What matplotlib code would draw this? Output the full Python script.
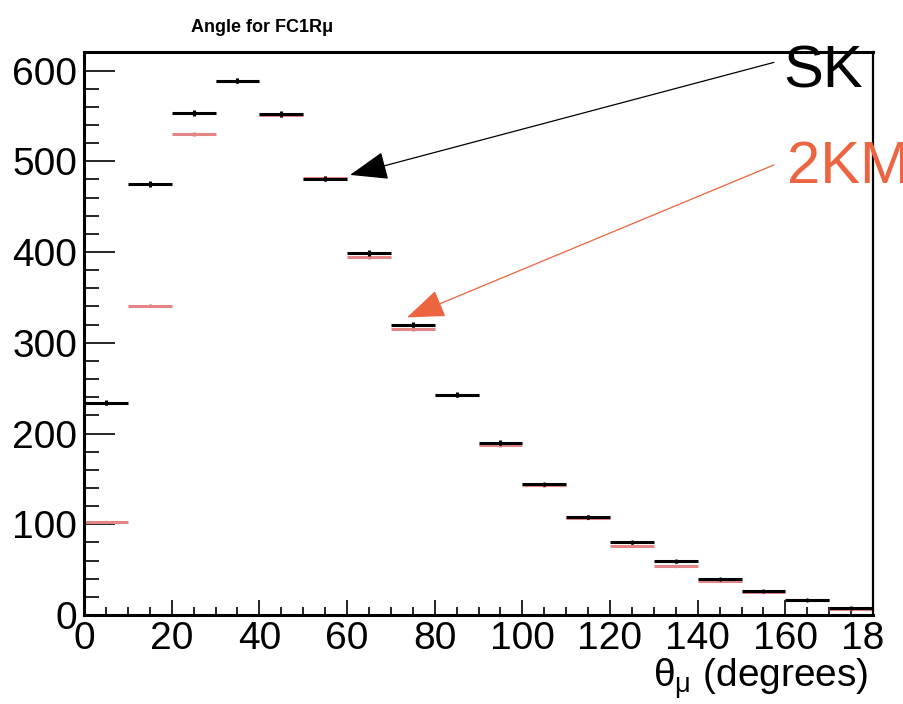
import matplotlib
matplotlib.use("Agg")
from matplotlib import pyplot as plt
from matplotlib.ticker import MultipleLocator, FixedLocator

# angle bins (degrees)
bin_edges = list(range(0, 190, 10))
# SK histogram (black)
sk_counts = [234, 475, 553, 589, 552, 481, 399, 320, 243, 190, 144, 108, 80, 59, 40, 26.5, 16.5, 7.5]
sk_err = [2.5, 3, 3, 3, 3, 3, 3, 3, 2.5, 2.5, 2, 2, 1.5, 1.5, 1, 1, 1, 0.5]
# 2KM histogram (light red, drawn below)
km_counts = [102.5, 341, 530, 589, 551, 481.5, 394, 315, 243, 187, 143, 107, 76.5, 54, 37.5, 25.5, 16, 7]
km_err = [1.5, 2, 2.5, 2.5, 2.5, 2.5, 2, 2, 2, 1.5, 1.5, 1, 1, 1, 0.5, 0.5, 0.5, 0.5]

x_ticks = [0, 20, 40, 60, 80, 100, 120, 140, 160, 180]
# last label is cut off in the original ("180" -> "18")
x_tick_labels = ["0", "20", "40", "60", "80", "100", "120", "140", "160", "18\u2007"]
y_ticks = [0, 100, 200, 300, 400, 500, 600]

plt.rcParams['font.family'] = ['Liberation Sans', 'DejaVu Sans']
plt.rcParams['mathtext.fontset'] = 'custom'
plt.rcParams['mathtext.rm'] = 'Liberation Sans'
plt.rcParams['mathtext.it'] = 'Liberation Sans'

fig = plt.figure(figsize=(9.04, 7.04), dpi=100)
ax = fig.add_axes([84 / 904, 1 - 615 / 704, (873 - 84) / 904, (615 - 51.5) / 704])

centers = [(bin_edges[i] + bin_edges[i + 1]) / 2 for i in range(len(bin_edges) - 1)]
half_w = [(bin_edges[i + 1] - bin_edges[i]) / 2 for i in range(len(bin_edges) - 1)]

km_color = "#e48585"
ax.errorbar(centers, km_counts, xerr=half_w, yerr=km_err, fmt='.', ms=3,
            color=km_color, ecolor=km_color, elinewidth=2.2, capsize=0, zorder=2)
ax.errorbar(centers, sk_counts, xerr=half_w, yerr=sk_err, fmt='.', ms=4,
            color='black', ecolor='black', elinewidth=2.2, capsize=0, zorder=3)

ax.set_xlim(0, 180)
ax.set_ylim(0, 621)

ax.xaxis.set_major_locator(FixedLocator(x_ticks))
ax.set_xticklabels(x_tick_labels)
ax.xaxis.set_minor_locator(MultipleLocator(5))
ax.yaxis.set_major_locator(FixedLocator(y_ticks))
ax.yaxis.set_minor_locator(MultipleLocator(20))

ax.tick_params(axis='both', which='both', direction='in', top=False, right=False,
               labelsize=28, width=1.2)
ax.tick_params(axis='x', which='major', length=11, pad=4)
ax.tick_params(axis='x', which='minor', length=5.5)
ax.tick_params(axis='y', which='major', length=22, pad=5)
ax.tick_params(axis='y', which='minor', length=11)

for side in ['left', 'bottom', 'top']:
    ax.spines[side].set_linewidth(2.2)
ax.spines['right'].set_linewidth(1.6)

# title and axis label
fig.text(262 / 904, 1 - 32 / 704, "Angle for FC1R\u03bc", fontsize=13, fontweight='bold',
         ha='center', va='baseline')
fig.text(868 / 904, 1 - 688 / 704, r"$\mathregular{\theta_{\mu}}$ (degrees)", fontsize=28,
         ha='right', va='baseline')

# labels with arrows
arrow_color = "#ec6440"
ax.annotate("", xy=(60.7, 485), xytext=(157.4, 609), annotation_clip=False,
            arrowprops=dict(arrowstyle='-|>,head_length=1.2,head_width=0.45', mutation_scale=20,
                            color='black', lw=0.9, shrinkA=0, shrinkB=0))
ax.annotate("", xy=(73.7, 328), xytext=(157.4, 496), annotation_clip=False,
            arrowprops=dict(arrowstyle='-|>,head_length=1.2,head_width=0.45', mutation_scale=20,
                            color=arrow_color, lw=0.9, shrinkA=0, shrinkB=0))
ax.text(159.5, 581, "SK", fontsize=43, color='black', ha='left', va='baseline', clip_on=False)
ax.text(160.3, 476.5, "2KM", fontsize=43, color=arrow_color, ha='left', va='baseline', clip_on=False)

fig.savefig("out.png", dpi=100)
